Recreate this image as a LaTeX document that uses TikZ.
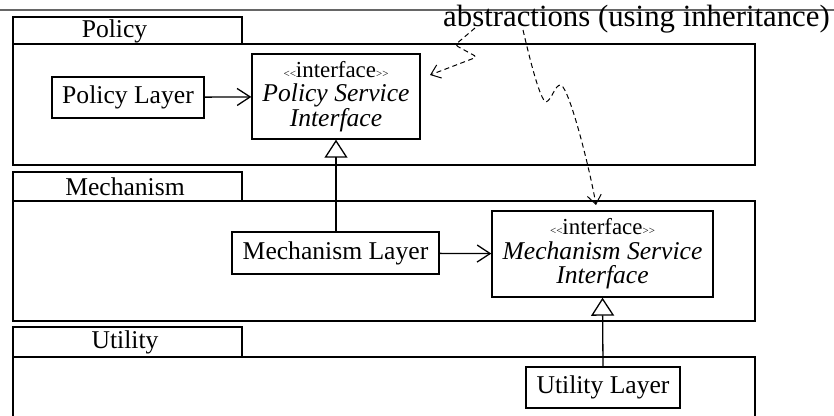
\documentclass[tikz,border=0pt]{standalone}
\usepackage{fontspec}
\setmainfont{Liberation Serif}
\usetikzlibrary{arrows.meta}
\newcommand{\stereo}[1]{{\fontsize{11}{11}\selectfont{<}{<}}{\fontsize{22.9}{22.9}\selectfont #1}{\fontsize{11}{11}\selectfont{>}{>}}}
\begin{document}
\begin{tikzpicture}[x=1pt,y=-1pt,
  every node/.style={inner sep=0pt},
  box/.style={draw,line width=1.4pt,rectangle},
  lbl/.style={font=\fontsize{25.6}{25}\selectfont},
  iface/.style={draw,line width=1.4pt,rectangle,align=center,font=\fontsize{25.6}{24.5}\selectfont},
  uses/.style={line width=1.3pt,-{Straight Barb[length=13pt,width=17pt,line width=1.3pt]}},
  inherits/.style={line width=1.3pt,-{Triangle[open,length=18pt,width=23pt,line width=1.3pt]}},
  note/.style={line width=1pt,dash pattern=on 5pt off 3.5pt,-{Straight Barb[length=9pt,width=14pt,line width=1pt]}}
]
\useasboundingbox (0,0) rectangle (834,415);
\clip (0,0) rectangle (834,415);
% top gray line
\coordinate (tl) at (0,10);
\coordinate (tr) at (834,10);
\draw[line width=1.3pt,gray!80!black] (tl) -- (tr);
% packages
\node[box,minimum width=229pt,minimum height=27pt] (poltab) at (127.5,30.5) {};
\node[lbl] (poltxt) at (114.5,31) {Policy};
\node[box,minimum width=742pt,minimum height=121pt] (polbody) at (384,104.5) {};
\node[box,minimum width=229pt,minimum height=29pt] (mectab) at (127.5,186.5) {};
\node[lbl] (mectxt) at (125,187) {Mechanism};
\node[box,minimum width=742pt,minimum height=120pt] (mecbody) at (384,261) {};
\node[box,minimum width=229pt,minimum height=30pt] (utitab) at (127.5,342) {};
\node[lbl] (utitxt) at (125,342.5) {Utility};
\node[box,minimum width=742pt,minimum height=100pt] (utibody) at (384,407) {};
% classes
\node[box,lbl,minimum width=152pt,minimum height=41pt] (pl) at (128,97.5) {Policy Layer};
\node[iface,minimum width=168pt,minimum height=85pt] (psi) at (336,96.5)
  {\stereo{interface}\\ \textit{Policy Service}\\ \textit{Interface}};
\node[box,lbl,minimum width=207pt,minimum height=42pt] (ml) at (335.5,253) {Mechanism Layer};
\node[iface,minimum width=221pt,minimum height=86pt] (msi) at (602.5,254)
  {\stereo{interface}\\ \textit{Mechanism Service}\\ \textit{Interface}};
\node[box,lbl,minimum width=154pt,minimum height=41pt] (ul) at (603,387.5) {Utility Layer};
% connectors
\draw[uses] (pl) -- (psi);
\draw[uses] (ml) -- (msi);
\draw[inherits] (ml.north -| psi.south) -- (psi.south);
\draw[inherits] (ul.north) -- (msi.south);
% note
\node[font=\fontsize{30.8}{30}\selectfont,anchor=base] (abs) at (636.5,26) {abstractions (using inheritance)};
\coordinate (n1s) at (475,28);
\coordinate (n1e) at (430,75);
\coordinate (n2s) at (523,30);
\coordinate (n2e) at (596,205);
\draw[note,rounded corners=3pt] (n1s) -- (455,45) -- (477,57) -- (n1e);
\draw[note] (n2s) .. controls (530,60) and (540,100) .. (546,102) .. controls (552,100) and (555,84) .. (561,85) .. controls (570,90) and (590,170) .. (n2e);
\end{tikzpicture}
\end{document}
